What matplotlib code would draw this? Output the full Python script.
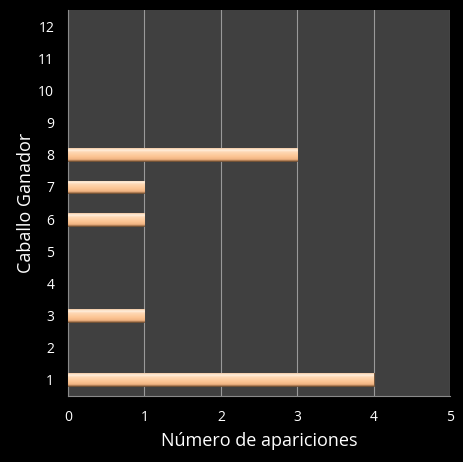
import matplotlib
matplotlib.use("Agg")
import matplotlib.pyplot as plt
import numpy as np
from matplotlib.colors import LinearSegmentedColormap

caballos = [1, 2, 3, 4, 5, 6, 7, 8, 9, 10, 11, 12]
apariciones = [4, 0, 1, 0, 0, 1, 1, 3, 0, 0, 0, 0]
xticks = [0, 1, 2, 3, 4, 5]

plt.rcParams['font.family'] = ['Open Sans', 'DejaVu Sans']

fig = plt.figure(figsize=(4.63, 4.62), dpi=100, facecolor='black')
ax = fig.add_axes([0.147, 0.143, 0.825, 0.835])
ax.set_facecolor('#404040')

edges = ['#6b4a2e' if v > 0 else 'none' for v in apariciones]
bars = ax.barh(caballos, apariciones, height=0.4, color='#FBC494',
               edgecolor=edges, linewidth=0.6, zorder=3)

cmap = LinearSegmentedColormap.from_list('peach', [
    (0.0, '#9a6a44'), (0.12, '#f0b482'), (0.35, '#fcc594'),
    (0.7, '#fed8b4'), (0.85, '#fff0de'), (1.0, '#f2c8a2')])
grad = np.linspace(0, 1, 64).reshape(-1, 1)
for b in bars:
    w = b.get_width()
    if w <= 0:
        continue
    y0 = b.get_y()
    h = b.get_height()
    im = ax.imshow(grad, cmap=cmap, aspect='auto', origin='lower',
                   extent=[0, w, y0, y0 + h], zorder=4)
    im.set_clip_path(b)

ax.set_xlim(0, 5)
ax.set_ylim(0.5, 12.5)
ax.set_xticks(xticks)
ax.set_yticks(caballos)
ax.grid(axis='x', color='#9a9a9a', linewidth=0.8, zorder=1)
ax.set_axisbelow(True)
for s in ['top', 'right']:
    ax.spines[s].set_visible(False)
for s in ['left', 'bottom']:
    ax.spines[s].set_color('#8a8a8a')
    ax.spines[s].set_linewidth(0.8)
ax.tick_params(colors='white', labelsize=10, length=0)
ax.tick_params(axis='x', pad=10)
ax.tick_params(axis='y', pad=10)
ax.set_xlabel('Número de apariciones', color='white', fontsize=13, labelpad=5)
ax.set_ylabel('Caballo Ganador', color='white', fontsize=13, labelpad=2)

fig.savefig('out.png', dpi=100, facecolor='black')
